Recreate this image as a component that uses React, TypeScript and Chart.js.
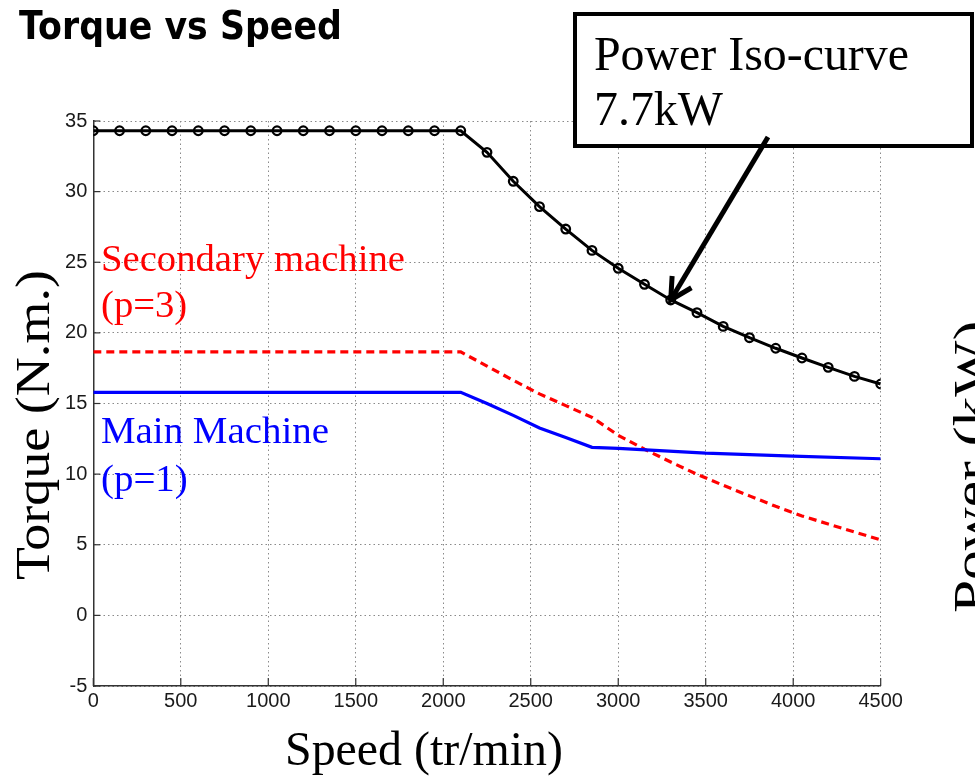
import { useEffect, useRef } from "react";
import { Chart, registerables } from "chart.js";

Chart.register(...registerables);

// ---- data ----
const isoSpeed = [0, 150, 300, 450, 600, 750, 900, 1050, 1200, 1350, 1500, 1650, 1800, 1950, 2100, 2250, 2400, 2550, 2700, 2850, 3000, 3150, 3300, 3450, 3600, 3750, 3900, 4050, 4200, 4350, 4500];
const isoTorque = [34.31, 34.31, 34.31, 34.31, 34.31, 34.31, 34.31, 34.31, 34.31, 34.31, 34.31, 34.31, 34.31, 34.31, 34.31, 32.78, 30.73, 28.94, 27.35, 25.84, 24.57, 23.44, 22.33, 21.43, 20.46, 19.66, 18.91, 18.22, 17.56, 16.92, 16.38];

const secSpeed = [0, 2100, 2250, 2400, 2550, 2700, 2850, 3000, 3150, 3300, 3450, 3600, 3750, 3900, 4050, 4200, 4350, 4500];
const secTorque = [18.65, 18.65, 17.65, 16.64, 15.68, 14.85, 14.02, 12.75, 11.76, 10.86, 9.99, 9.21, 8.46, 7.72, 7.04, 6.47, 5.9, 5.34];

const mainSpeed = [0, 2100, 2250, 2400, 2550, 2700, 2850, 3000, 3500, 4000, 4500];
const mainTorque = [15.79, 15.79, 15.0, 14.16, 13.27, 12.59, 11.9, 11.83, 11.48, 11.28, 11.09];

const xTickValues = [0, 500, 1000, 1500, 2000, 2500, 3000, 3500, 4000, 4500];
const yTickValues = [-5, 0, 5, 10, 15, 20, 25, 30, 35];

const titleText = "Torque vs Speed";
const xTitle = "Speed (tr/min)";
const yTitle = "Torque (N.m.)";
const rightTitle = "Power (kW)";
const isoLabel = ["Power Iso-curve", "7.7kW"];
const secLabel = ["Secondary machine", "(p=3)"];
const mainLabel = ["Main Machine", "(p=1)"];
const arrowTarget = { speed: 3300, torque: 22.33 };

const SERIF = '"Liberation Serif", "Times New Roman", serif';
const SANS = '"Liberation Sans", Arial, sans-serif';
const TITLE_FONT = '"DejaVu Sans", "Open Sans", sans-serif';

function pairs(xs: number[], ys: number[]) {
  return xs.map((x, i) => ({ x, y: ys[i] }));
}

function fitSize(ctx: CanvasRenderingContext2D, text: string, family: string, weight: string, targetW: number) {
  ctx.font = `${weight} 100px ${family}`;
  const w = ctx.measureText(text).width;
  return (100 * targetW) / w;
}

const overlay = {
  id: "overlay",
  afterDraw(chart: any) {
    const ctx: CanvasRenderingContext2D = chart.ctx;
    const xs = chart.scales.x;
    const ys = chart.scales.y;
    const area = chart.chartArea;
    ctx.save();

    // inner tick marks
    ctx.strokeStyle = "#333";
    ctx.lineWidth = 1.2;
    ctx.setLineDash([]);
    for (const v of xTickValues) {
      const px = xs.getPixelForValue(v);
      ctx.beginPath();
      ctx.moveTo(px, area.bottom);
      ctx.lineTo(px, area.bottom - 8);
      ctx.stroke();
    }
    for (const v of yTickValues) {
      const py = ys.getPixelForValue(v);
      ctx.beginPath();
      ctx.moveTo(area.left, py);
      ctx.lineTo(area.left + 7, py);
      ctx.stroke();
    }

    ctx.textAlign = "left";
    ctx.textBaseline = "alphabetic";

    // title
    let s = fitSize(ctx, titleText, TITLE_FONT, "bold", 323);
    ctx.font = `bold ${s}px ${TITLE_FONT}`;
    ctx.fillStyle = "#000";
    ctx.save();
    ctx.translate(19, 39);
    ctx.scale(1, 1.12);
    ctx.fillText(titleText, 0, 0);
    ctx.restore();

    // series labels
    s = fitSize(ctx, secLabel[0], SERIF, "normal", 304);
    ctx.font = `${s}px ${SERIF}`;
    ctx.fillStyle = "#ff0000";
    ctx.fillText(secLabel[0], 101, 271);
    ctx.fillText(secLabel[1], 101, 317);

    s = fitSize(ctx, mainLabel[0], SERIF, "normal", 228);
    ctx.font = `${s}px ${SERIF}`;
    ctx.fillStyle = "#0000ff";
    ctx.fillText(mainLabel[0], 101, 443);
    ctx.fillText(mainLabel[1], 101, 491);

    // axis titles
    s = fitSize(ctx, xTitle, SERIF, "normal", 278);
    ctx.font = `${s}px ${SERIF}`;
    ctx.fillStyle = "#000";
    ctx.fillText(xTitle, 285, 765);

    const ys2 = fitSize(ctx, yTitle, SERIF, "normal", 310);
    ctx.font = `${ys2}px ${SERIF}`;
    ctx.save();
    ctx.translate(49, 580);
    ctx.rotate(-Math.PI / 2);
    ctx.scale(1, 0.9);
    ctx.fillText(yTitle, 0, 0);
    ctx.restore();

    ctx.save();
    ctx.translate(955 + ys2 * 0.6, 613);
    ctx.rotate(-Math.PI / 2);
    ctx.scale(1.1, 0.9);
    ctx.fillText(rightTitle, 0, 0);
    ctx.restore();

    // annotation box
    ctx.fillStyle = "#fff";
    ctx.fillRect(573, 12, 401, 136);
    ctx.strokeStyle = "#000";
    ctx.lineWidth = 4;
    ctx.strokeRect(575, 14, 397, 132);
    s = fitSize(ctx, isoLabel[0], SERIF, "normal", 315);
    ctx.font = `${s}px ${SERIF}`;
    ctx.fillStyle = "#000";
    ctx.fillText(isoLabel[0], 594, 70);
    ctx.fillText(isoLabel[1], 594, 125);

    // arrow
    const tipX = xs.getPixelForValue(arrowTarget.speed);
    const tipY = ys.getPixelForValue(arrowTarget.torque);
    const sx = 768;
    const sy = 137;
    const ang = Math.atan2(sy - tipY, sx - tipX);
    ctx.lineWidth = 5;
    ctx.lineCap = "butt";
    ctx.beginPath();
    ctx.moveTo(sx, sy);
    ctx.lineTo(tipX, tipY);
    ctx.stroke();
    const hl = 24;
    ctx.beginPath();
    ctx.moveTo(tipX + hl * Math.cos(ang - 0.48), tipY + hl * Math.sin(ang - 0.48));
    ctx.lineTo(tipX, tipY);
    ctx.lineTo(tipX + hl * Math.cos(ang + 0.5), tipY + hl * Math.sin(ang + 0.5));
    ctx.stroke();

    ctx.restore();
  },
};

export default function App() {
  const ref = useRef<HTMLCanvasElement>(null);
  useEffect(() => {
    const canvas = ref.current!;
    const chart = new Chart(canvas, {
      type: "line",
      data: {
        datasets: [
          {
            label: "Main Machine (p=1)",
            data: pairs(mainSpeed, mainTorque),
            borderColor: "#0000ff",
            borderWidth: 3.2,
            pointRadius: 0,
            fill: false,
            tension: 0,
          },
          {
            label: "Secondary machine (p=3)",
            data: pairs(secSpeed, secTorque),
            borderColor: "#ff0000",
            borderWidth: 3.2,
            borderDash: [8, 5],
            pointRadius: 0,
            fill: false,
            tension: 0,
          },
          {
            label: "Power Iso-curve 7.7kW",
            data: pairs(isoSpeed, isoTorque),
            borderColor: "#000",
            borderWidth: 3,
            pointRadius: 4.3,
            pointBorderWidth: 2.3,
            pointBorderColor: "#000",
            pointBackgroundColor: "rgba(0,0,0,0)",
            fill: false,
            tension: 0,
          },
        ],
      },
      options: {
        responsive: false,
        animation: false,
        layout: { padding: { left: 0, top: 121, right: 94.3, bottom: 0 } },
        plugins: { legend: { display: false }, tooltip: { enabled: false }, title: { display: false } },
        scales: {
          x: {
            type: "linear",
            min: 0,
            max: 4500,
            afterFit: (sc: any) => {
              sc.height = 92;
            },
            afterBuildTicks: (sc: any) => {
              sc.ticks = xTickValues.map((v) => ({ value: v }));
            },
            ticks: {
              font: { family: SANS, size: 20 },
              color: "#1a1a1a",
              padding: 3,
              maxRotation: 0,
              autoSkip: false,
              callback: (v: any) => String(v),
            },
            grid: { color: "#8a8a8a", lineWidth: 1, drawTicks: false },
            border: { display: true, color: "#333", width: 1.5, dash: [1.5, 3] },
          },
          y: {
            type: "linear",
            min: -5,
            max: 35,
            afterFit: (sc: any) => {
              sc.width = 93.3;
            },
            afterBuildTicks: (sc: any) => {
              sc.ticks = yTickValues.map((v) => ({ value: v }));
            },
            ticks: {
              font: { family: SANS, size: 20 },
              color: "#1a1a1a",
              padding: 6,
              autoSkip: false,
              callback: (v: any) => String(v),
            },
            grid: { color: "#8a8a8a", lineWidth: 1, drawTicks: false },
            border: { display: true, color: "#333", width: 1.5, dash: [1.5, 3] },
          },
        },
      },
      plugins: [overlay],
    } as any);
    return () => chart.destroy();
  }, []);
  return (
    <div style={{ position: "fixed", left: 0, top: 0, width: 975, height: 778, background: "#fff" }}>
      <canvas ref={ref} width={975} height={778} style={{ display: "block" }} />
    </div>
  );
}
